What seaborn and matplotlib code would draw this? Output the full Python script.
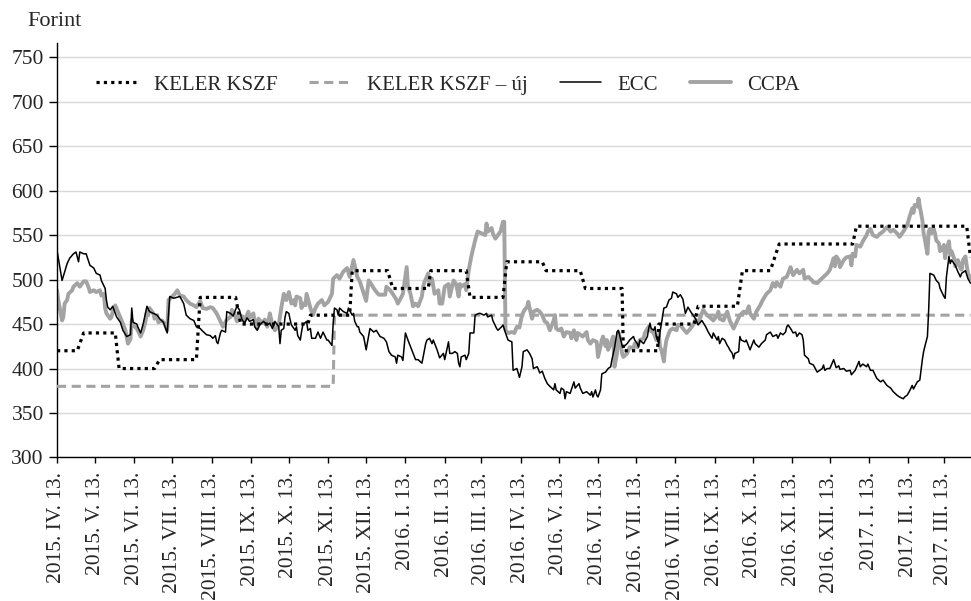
import matplotlib
matplotlib.use('Agg')
import matplotlib.pyplot as plt
import seaborn as sns
import numpy as np
import pandas as pd

# day offsets counted from 2015-04-13, values in forint
start = pd.Timestamp('2015-04-13')

keler_days = [0, 16, 21, 46, 49, 77, 81, 110, 113, 141, 145, 198, 200, 231, 233,
              261, 265, 293, 295, 323, 326, 352, 355, 383, 386, 413, 417, 446, 447,
              474, 475, 503, 506, 537, 541, 563, 570, 628, 631, 718, 721]
keler_vals = [420, 420, 440, 440, 400, 400, 410, 410, 480, 480, 450, 450, 460, 460, 510,
              510, 490, 490, 510, 510, 480, 480, 520, 520, 510, 510, 490, 490, 420,
              420, 450, 450, 470, 470, 510, 510, 540, 540, 560, 560, 525]

uj_days = [0, 218, 219, 721]
uj_vals = [380, 380, 460, 460]

ecc_days = [
    0, 4, 8, 10, 13, 15, 17, 18, 21, 23, 26, 29,
    31, 34, 35, 38, 39, 40, 42, 44, 47, 50, 52, 55,
    58, 59, 60, 63, 64, 66, 68, 71, 73, 76, 79, 81,
    84, 87, 89, 92, 97, 100, 102, 105, 108, 110, 113, 115,
    118, 121, 123, 125, 126, 127, 129, 130, 133, 134, 137, 139,
    142, 144, 146, 148, 150, 152, 155, 156, 158, 160, 163, 166,
    168, 170, 172, 175, 176, 177, 179, 180, 181, 183, 184, 185,
    188, 189, 190, 192, 193, 194, 197, 198, 200, 201, 204, 206,
    208, 210, 213, 214, 216, 217, 218, 219, 221, 222, 223, 226,
    229, 230, 233, 234, 235, 237, 238, 239, 242, 244, 247, 250,
    252, 255, 258, 260, 262, 264, 267, 268, 269, 272, 273, 275,
    277, 280, 283, 285, 288, 289, 291, 292, 294, 296, 297, 300,
    302, 305, 306, 309, 310, 312, 314, 316, 317, 318, 319, 322,
    323, 325, 326, 329, 330, 333, 334, 337, 339, 340, 343, 344,
    347, 348, 351, 352, 354, 356, 359, 360, 363, 365, 367, 368,
    371, 373, 375, 376, 379, 380, 381, 383, 385, 387, 389, 392,
    393, 394, 397, 398, 400, 401, 402, 405, 408, 409, 412, 413,
    415, 418, 421, 422, 423, 425, 426, 427, 429, 430, 433, 435,
    437, 438, 440, 442, 443, 444, 446, 447, 450, 452, 455, 456,
    458, 459, 460, 463, 466, 467, 468, 469, 471, 472, 473, 475,
    476, 479, 481, 483, 485, 486, 489, 490, 492, 494, 496, 498,
    501, 504, 506, 509, 512, 514, 517, 518, 521, 522, 523, 525,
    527, 529, 530, 531, 533, 534, 535, 538, 539, 540, 543, 544,
    547, 550, 551, 554, 556, 559, 560, 563, 565, 568, 569, 571,
    573, 575, 576, 577, 579, 581, 583, 584, 586, 588, 589, 590,
    593, 594, 597, 600, 602, 604, 605, 606, 608, 610, 613, 615,
    617, 618, 621, 623, 626, 627, 630, 633, 634, 636, 639, 640,
    642, 644, 647, 650, 652, 655, 658, 660, 663, 665, 668, 669,
    671, 673, 675, 676, 679, 681, 683, 684, 685, 687, 688, 689,
    692, 694, 696, 697, 700, 701, 702, 704, 705, 706, 709, 711,
    713, 714, 717, 719, 721]
ecc_vals = [
    533, 499, 518, 524, 529, 531, 520, 531, 529, 529, 516, 513,
    507, 505, 499, 490, 477, 469, 466, 470, 458, 452, 443, 436,
    438, 468, 452, 450, 446, 440, 450, 470, 464, 462, 460, 456,
    452, 440, 481, 479, 481, 473, 460, 456, 454, 447, 445, 442,
    438, 437, 434, 437, 430, 428, 440, 443, 441, 464, 462, 459,
    470, 466, 455, 451, 457, 453, 455, 447, 443, 449, 453, 449,
    451, 445, 453, 447, 428, 443, 445, 458, 464, 462, 455, 449,
    443, 447, 437, 432, 441, 449, 453, 443, 445, 434, 434, 441,
    434, 441, 432, 432, 428, 426, 451, 468, 466, 460, 468, 464,
    462, 468, 460, 462, 453, 447, 447, 441, 436, 421, 445, 441,
    443, 436, 434, 430, 419, 415, 413, 406, 415, 413, 409, 440,
    432, 421, 410, 410, 406, 413, 428, 432, 434, 428, 432, 421,
    412, 417, 410, 430, 417, 417, 419, 417, 406, 402, 413, 415,
    410, 417, 440, 440, 460, 462, 462, 460, 462, 458, 460, 454,
    445, 443, 447, 449, 440, 432, 430, 398, 400, 390, 402, 419,
    421, 417, 411, 400, 402, 399, 395, 397, 389, 383, 380, 376,
    383, 376, 372, 378, 376, 366, 374, 372, 385, 378, 383, 378,
    372, 374, 370, 374, 368, 376, 370, 368, 376, 394, 396, 400,
    402, 410, 423, 441, 443, 438, 426, 424, 428, 432, 436, 432,
    428, 424, 432, 428, 436, 445, 451, 445, 443, 447, 436, 428,
    441, 468, 469, 477, 479, 486, 484, 480, 483, 478, 462, 469,
    462, 456, 449, 454, 447, 441, 434, 440, 432, 436, 428, 434,
    432, 426, 424, 421, 417, 411, 417, 419, 436, 432, 430, 432,
    421, 432, 428, 424, 428, 432, 438, 441, 436, 438, 434, 440,
    438, 441, 447, 449, 445, 440, 441, 436, 440, 438, 432, 415,
    411, 406, 404, 396, 398, 400, 404, 398, 400, 400, 410, 401,
    403, 399, 400, 397, 398, 393, 398, 408, 402, 405, 402, 405,
    398, 398, 389, 385, 387, 381, 378, 374, 370, 368, 366, 368,
    370, 375, 381, 377, 385, 387, 410, 419, 425, 436, 466, 507,
    505, 499, 496, 490, 481, 479, 503, 526, 518, 522, 516, 509,
    503, 507, 510, 501, 496]

ccpa_days = [
    0, 1, 4, 5, 6, 8, 9, 12, 13, 16, 18, 21,
    23, 25, 26, 29, 31, 34, 35, 37, 38, 39, 42, 43,
    44, 46, 48, 51, 54, 56, 58, 59, 60, 63, 66, 68,
    70, 71, 72, 73, 76, 77, 79, 80, 83, 85, 87, 88,
    91, 93, 95, 97, 100, 102, 105, 108, 110, 113, 115, 118,
    121, 123, 126, 129, 131, 134, 137, 138, 140, 142, 144, 147,
    148, 151, 152, 155, 156, 158, 159, 162, 164, 166, 168, 170,
    172, 175, 177, 179, 180, 181, 183, 185, 187, 188, 189, 192,
    193, 194, 196, 197, 200, 202, 204, 206, 209, 211, 214, 217,
    218, 221, 223, 226, 229, 231, 234, 237, 239, 242, 244, 246,
    248, 251, 254, 256, 259, 260, 263, 265, 268, 269, 272, 273,
    276, 277, 279, 281, 283, 285, 288, 289, 290, 293, 294, 296,
    298, 301, 302, 304, 306, 309, 310, 313, 315, 317, 318, 319,
    322, 323, 325, 327, 330, 332, 335, 338, 339, 340, 343, 344,
    346, 348, 350, 352, 353, 354, 356, 359, 361, 363, 365, 367,
    369, 371, 372, 373, 375, 376, 379, 381, 383, 385, 387, 389,
    392, 393, 394, 396, 398, 400, 402, 405, 406, 408, 410, 411,
    413, 415, 418, 419, 421, 423, 426, 427, 429, 430, 431, 433,
    434, 435, 437, 439, 440, 442, 443, 444, 446, 447, 450, 452,
    455, 456, 458, 460, 463, 464, 467, 468, 471, 473, 475, 476,
    477, 479, 480, 481, 483, 484, 486, 489, 490, 492, 494, 497,
    500, 502, 504, 506, 508, 510, 513, 515, 518, 521, 522, 523,
    526, 529, 531, 534, 536, 539, 542, 544, 546, 547, 550, 552,
    555, 557, 560, 563, 565, 567, 568, 571, 573, 576, 579, 580,
    581, 584, 586, 589, 590, 593, 596, 597, 600, 602, 605, 608,
    610, 613, 614, 615, 617, 618, 621, 623, 626, 627, 628, 630,
    631, 634, 636, 639, 640, 642, 644, 647, 650, 652, 655, 658,
    660, 663, 665, 667, 668, 671, 673, 675, 676, 677, 679, 680,
    681, 683, 684, 685, 687, 688, 689, 690, 692, 693, 694, 696,
    697, 698, 700, 701, 702, 704, 705, 706, 708, 709, 710, 711,
    713, 714, 715, 717, 718, 719, 721]
ccpa_vals = [
    488, 477, 454, 458, 473, 477, 484, 488, 492, 496, 492, 498,
    498, 491, 486, 488, 486, 488, 482, 484, 468, 462, 456, 458,
    464, 471, 464, 454, 443, 428, 433, 454, 449, 445, 436, 443,
    454, 464, 460, 468, 462, 456, 460, 452, 454, 450, 443, 477,
    481, 484, 488, 482, 481, 477, 473, 471, 469, 476, 468, 467,
    469, 468, 462, 453, 447, 455, 458, 466, 462, 453, 460, 458,
    453, 464, 457, 462, 453, 445, 456, 451, 455, 447, 462, 449,
    443, 449, 468, 484, 479, 477, 486, 473, 477, 471, 481, 479,
    468, 473, 471, 484, 468, 460, 468, 473, 477, 471, 475, 484,
    501, 505, 501, 509, 513, 503, 522, 503, 498, 485, 476, 499,
    495, 488, 483, 483, 483, 492, 488, 484, 477, 473, 481, 484,
    514, 492, 484, 470, 473, 470, 481, 492, 497, 507, 496, 501,
    484, 488, 473, 473, 492, 495, 481, 499, 495, 481, 495, 492,
    495, 488, 511, 526, 544, 554, 552, 550, 563, 554, 558, 552,
    546, 550, 554, 565, 565, 443, 440, 441, 440, 447, 446, 460,
    466, 469, 475, 468, 456, 464, 466, 464, 460, 453, 451, 443,
    454, 460, 445, 443, 445, 436, 441, 440, 434, 443, 432, 440,
    438, 436, 441, 432, 428, 432, 430, 413, 425, 432, 436, 425,
    432, 421, 428, 436, 402, 417, 441, 436, 417, 413, 417, 424,
    423, 428, 424, 432, 434, 440, 447, 443, 440, 432, 438, 424,
    421, 408, 423, 432, 440, 443, 445, 443, 449, 449, 445, 440,
    445, 449, 455, 451, 458, 466, 460, 458, 454, 460, 464, 456,
    454, 464, 454, 445, 451, 460, 464, 462, 470, 462, 456, 464,
    471, 477, 484, 488, 496, 492, 497, 492, 501, 503, 514, 509,
    505, 511, 507, 511, 501, 503, 499, 497, 496, 499, 503, 507,
    511, 524, 515, 526, 522, 514, 522, 525, 526, 516, 529, 526,
    539, 537, 543, 550, 554, 557, 550, 548, 552, 554, 559, 554,
    556, 552, 548, 552, 554, 561, 571, 580, 575, 584, 582, 591,
    582, 567, 552, 545, 529, 554, 557, 552, 557, 552, 544, 541,
    532, 533, 539, 524, 533, 543, 528, 532, 524, 515, 517, 522,
    513, 511, 522, 526, 516, 507, 501]

roman = ['I', 'II', 'III', 'IV', 'V', 'VI', 'VII', 'VIII', 'IX', 'X', 'XI', 'XII']
tick_dates = pd.date_range('2015-04-01', '2017-03-01', freq='MS') + pd.Timedelta(days=12)
tick_labels = [f"{d.year}. {roman[d.month - 1]}. 13." for d in tick_dates]


def to_dates(days):
    return start + pd.to_timedelta(np.asarray(days), unit='D')


sns.set_style('ticks')
plt.rcParams['font.family'] = ['Liberation Serif', 'DejaVu Serif']

gray = '#a3a3a3'
fig = plt.figure(figsize=(9.71, 6.01), dpi=100)
ax = fig.add_axes([0.0587, 0.2388, 0.9413, 0.6897])

sns.lineplot(x=to_dates(keler_days), y=keler_vals, ax=ax, color='black', lw=2.3,
             linestyle=(0, (1, 1.3)), estimator=None, sort=False, label='KELER KSZF', zorder=5)
sns.lineplot(x=to_dates(uj_days), y=uj_vals, ax=ax, color=gray, lw=2.2,
             linestyle=(0, (3, 1.8)), estimator=None, sort=False, label='KELER KSZF – új', zorder=3)
sns.lineplot(x=to_dates(ecc_days), y=ecc_vals, ax=ax, color='black', lw=1.1,
             estimator=None, sort=False, label='ECC', zorder=4)
sns.lineplot(x=to_dates(ccpa_days), y=ccpa_vals, ax=ax, color=gray, lw=2.8,
             estimator=None, sort=False, label='CCPA', zorder=2)

ax.set_xlim(start, start + pd.Timedelta(days=721.4))
ax.set_ylim(300, 766)
ax.set_yticks(range(300, 751, 50))
ax.set_xticks(tick_dates)
ax.set_xticklabels(tick_labels, rotation=90, fontsize=15.5)
ax.tick_params(axis='y', labelsize=15.5, length=5.5, width=1, pad=4, color='black')
ax.tick_params(axis='x', length=4.5, width=1, pad=6, color='black')
ax.set_xlabel('')
ax.set_ylabel('')
ax.yaxis.grid(True, color='#d9d9d9', lw=1)
ax.set_axisbelow(True)
sns.despine(ax=ax)
for s in ['left', 'bottom']:
    ax.spines[s].set_color('black')
    ax.spines[s].set_linewidth(1)

ax.legend(loc='center left', bbox_to_anchor=(0.043, 0.899), ncol=4, frameon=False,
          handlelength=2.0, handletextpad=0.75, columnspacing=1.55, borderpad=0,
          borderaxespad=0, fontsize=15)

fig.text(0.028, 0.965, 'Forint', fontsize=16, va='center', ha='left')

fig.savefig('out.png', dpi=100)
